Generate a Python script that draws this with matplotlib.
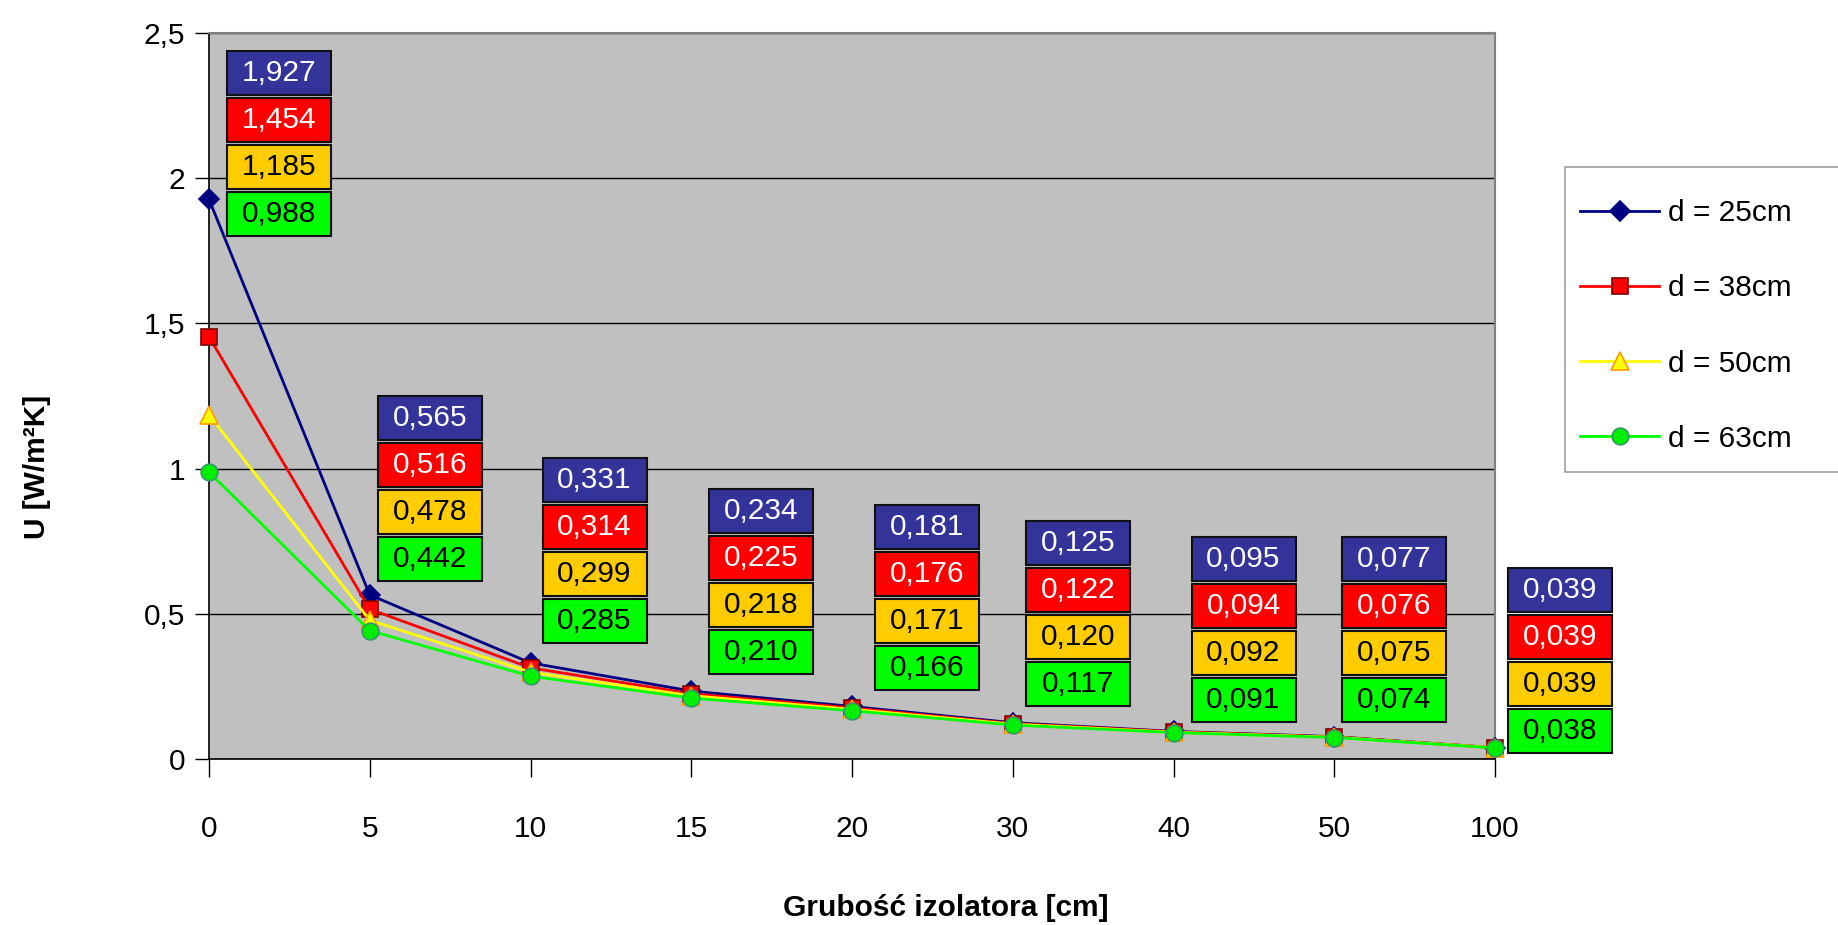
import matplotlib
matplotlib.use("Agg")
import matplotlib.pyplot as plt
from matplotlib.patches import Rectangle
from matplotlib.transforms import Affine2D, ScaledTranslation

plt.rcParams['font.family'] = ['Liberation Sans', 'DejaVu Sans']

# Data
categories = ['0', '5', '10', '15', '20', '30', '40', '50', '100']
series_names = ['d = 25cm', 'd = 38cm', 'd = 50cm', 'd = 63cm']
u_d25 = [1.927, 0.565, 0.331, 0.234, 0.181, 0.125, 0.095, 0.077, 0.039]
u_d38 = [1.454, 0.516, 0.314, 0.225, 0.176, 0.122, 0.094, 0.076, 0.039]
u_d50 = [1.185, 0.478, 0.299, 0.218, 0.171, 0.120, 0.092, 0.075, 0.039]
u_d63 = [0.988, 0.442, 0.285, 0.210, 0.166, 0.117, 0.091, 0.074, 0.038]
y_ticks = [0, 0.5, 1, 1.5, 2, 2.5]
y_tick_labels = ['0', '0,5', '1', '1,5', '2', '2,5']

# Label stack placement (top of stack in data units, x shift in pixels)
label_top = [2.438, 1.250, 1.037, 0.930, 0.875, 0.820, 0.766, 0.766, 0.658]
label_dx = [18, 8, 12, 18, 23, 13, 18, 8, 13]

# Styles per series
line_colors = ['#000080', '#FF0000', '#FFFF00', '#00FF00']
markers = ['D', 's', '^', 'o']
marker_sizes = [10, 11, 13, 12]
marker_faces = ['#000080', '#FF0000', '#FFFF00', '#00EE00']
marker_edges = ['#000080', '#800000', '#FF9900', '#339966']
box_colors = ['#333399', '#FF0000', '#FFCC00', '#00FF00']
box_text = ['white', 'white', 'black', 'black']

FS = 21.5
W, H = 1838, 925
fig = plt.figure(figsize=(W / 100, H / 100), dpi=100)
ax = fig.add_axes([209 / W, 1 - 759 / H, (1495 - 209) / W, (759 - 33) / H])
ax.set_facecolor('#C0C0C0')

xs = list(range(len(categories)))
all_series = [u_d25, u_d38, u_d50, u_d63]
for k, vals in enumerate(all_series):
    ax.plot(xs, vals, color=line_colors[k], lw=2, marker=markers[k],
            markersize=marker_sizes[k], markerfacecolor=marker_faces[k],
            markeredgecolor=marker_edges[k], markeredgewidth=1.2,
            label=series_names[k], clip_on=False, zorder=3 + k * 0.1)

ax.set_xlim(0, len(categories) - 1)
ax.set_ylim(0, 2.5)
ax.set_yticks(y_ticks)
ax.set_yticklabels(y_tick_labels)
ax.set_xticks(xs)
ax.set_xticklabels(categories)
ax.tick_params(axis='y', direction='out', length=10, width=1, labelsize=FS, pad=7)
ax.tick_params(axis='x', direction='out', length=13, width=1, labelsize=FS, pad=27)
ax.yaxis.grid(True, color='black', lw=1)
ax.set_axisbelow(True)
for s in ['top', 'right']:
    ax.spines[s].set_color('#808080')
    ax.spines[s].set_linewidth(1.5)
for s in ['left', 'bottom']:
    ax.spines[s].set_color('black')
    ax.spines[s].set_linewidth(1.2)

# value boxes
box_w, box_h, pitch = 104, 44, 47
for i in xs:
    trans = Affine2D() + ScaledTranslation(i, label_top[i], ax.transData)
    for k, vals in enumerate(all_series):
        y0 = -k * pitch - box_h
        ax.add_patch(Rectangle((label_dx[i], y0), box_w, box_h, transform=trans,
                               facecolor=box_colors[k], edgecolor='#111111',
                               lw=1.5, clip_on=False, zorder=6))
        txt = ('%.3f' % vals[i]).replace('.', ',')
        ax.text(label_dx[i] + box_w / 2, y0 + box_h / 2, txt, transform=trans,
                ha='center', va='center', fontsize=FS, color=box_text[k],
                zorder=7, clip_on=False)

fig.text(946 / W, 1 - 908 / H, 'Grubość izolatora [cm]', ha='center', va='center',
         fontsize=FS, fontweight='bold')
fig.text(37 / W, 1 - 467 / H, 'U [W/m²K]', ha='center', va='center',
         fontsize=FS, fontweight='bold', rotation=90)

# legend frame drawn separately, entries placed inside it
fig.patches.append(Rectangle((1565 / W, 1 - 472 / H), (1845 - 1565) / W, (472 - 167) / H,
                             transform=fig.transFigure, facecolor='white',
                             edgecolor='#A0A0A0', lw=1.2, zorder=0))
leg = fig.legend(loc='center left', bbox_to_anchor=(1580 / W, 1 - 326 / H),
                 fontsize=FS, frameon=False, borderpad=0, labelspacing=1.58,
                 handlelength=2.65, handletextpad=0.3, borderaxespad=0)

fig.savefig('out.png', dpi=100)
